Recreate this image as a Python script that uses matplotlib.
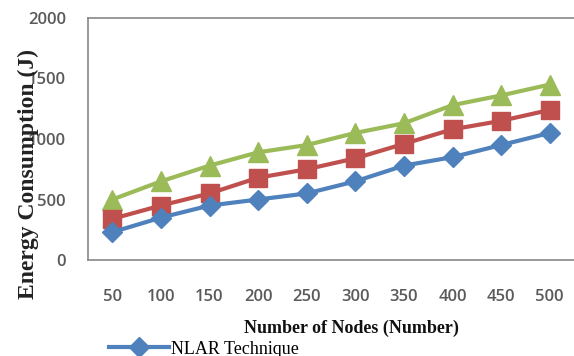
import matplotlib
matplotlib.use('Agg')
import matplotlib.pyplot as plt
import numpy as np

# Chart data
nodes = ['50', '100', '150', '200', '250', '300', '350', '400', '450', '500']
nlar = [230, 350, 450, 500, 550, 650, 780, 850, 950, 1050]
red_series = [340, 450, 550, 680, 750, 840, 960, 1080, 1150, 1240]
green_series = [500, 650, 780, 890, 950, 1050, 1130, 1280, 1360, 1450]
y_ticks = [0, 500, 1000, 1500, 2000]
y_tick_labels = ['0', '500', '1000', '1500', '2000']

fig = plt.figure(figsize=(5.74, 3.56), dpi=100)
ax = fig.add_axes([88/574, 96/356, 486/574, 242/356])

x = np.arange(len(nodes))
ax.plot(x, green_series, color='#9BBB59', linewidth=3, marker='^', markersize=14)
ax.plot(x, red_series, color='#C0504D', linewidth=3, marker='s', markersize=13)
line_nlar, = ax.plot(x, nlar, color='#4F81BD', linewidth=3, marker='D', markersize=10)

ax.set_xlim(-0.5, len(nodes) - 0.5)
ax.set_ylim(0, 2000)
ax.set_xticks(x)
ax.set_xticklabels(nodes)
ax.set_yticks(y_ticks)
ax.set_yticklabels(y_tick_labels)
ax.tick_params(axis='both', length=0, labelsize=12, labelcolor='#5a5a5a')
ax.tick_params(axis='x', pad=21)
ax.tick_params(axis='y', pad=16)
for lbl in ax.get_xticklabels() + ax.get_yticklabels():
    lbl.set_family('Open Sans')
    lbl.set_fontweight('semibold')

for side in ['left', 'top', 'bottom']:
    ax.spines[side].set_color('#888888')
    ax.spines[side].set_linewidth(1.2)
ax.spines['right'].set_visible(False)

fig.text(28/574, 182/356, 'Energy Consumption (J)', rotation=90,
         ha='center', va='center', family='Liberation Serif', fontsize=17,
         fontweight='bold', color='#222222')
fig.text(351/574, 28/356, 'Number of Nodes (Number)', ha='center', va='center',
         family='Liberation Serif', fontsize=13, fontweight='bold',
         color='#111111')

fig.legend(handles=[line_nlar], labels=['NLAR Technique'], loc='center left',
           bbox_to_anchor=(100/574, 7/356), frameon=False, handlelength=3.3,
           prop={'family': 'Liberation Serif', 'size': 13}, borderpad=0,
           handletextpad=0.15)

plt.savefig('out.png', dpi=100)
